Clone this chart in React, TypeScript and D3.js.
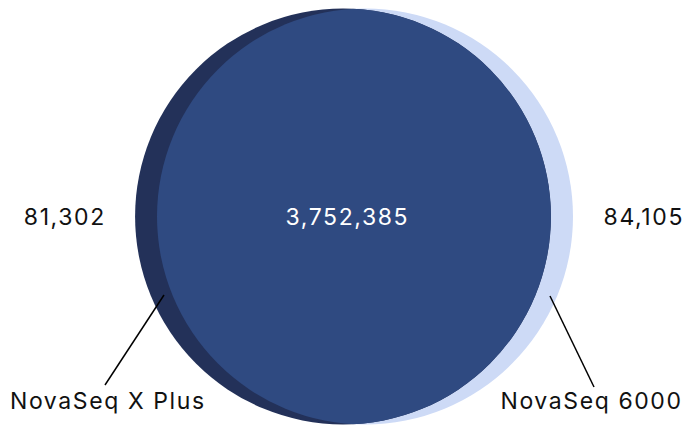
import React from "react";
import * as d3 from "d3";

const setNames = ["NovaSeq X Plus", "NovaSeq 6000"];
const onlyCounts = [81302, 84105];
const sharedCount = 3752385;
const setColors = ["#233159", "#cddaf6"];
const sharedColor = "#2f4a81";

const W = 687;
const H = 425;

export default function App() {
  const totals = onlyCounts.map((c) => c + sharedCount);
  const r = d3.scaleSqrt().domain([0, d3.max(totals)!]).range([0, 208]);
  const rA = r(totals[0]);
  const rB = r(totals[1]);
  const cy = 216.5;
  const cxA = 343;
  const cxB = 365;
  const fmt = d3.format(",");
  const font = "Inter, 'Open Sans', sans-serif";
  const fs = 23;
  const ls = 1.6;

  return (
    <div style={{ position: "absolute", left: 0, top: 0 }}>
      <svg width={W} height={H} style={{ display: "block" }}>
        <defs>
          <clipPath id="clipA">
            <circle cx={cxA} cy={cy} r={rA} />
          </clipPath>
        </defs>
        <circle cx={cxB} cy={cy} r={rB} fill={setColors[1]} />
        <circle cx={cxA} cy={cy} r={rA} fill={setColors[0]} />
        <circle cx={cxB} cy={cy} r={rB} fill={sharedColor} clipPath="url(#clipA)" />

        <g fontFamily={font} fontSize={fs} letterSpacing={ls}>
          <text x={64 + ls / 2} y={224.5} textAnchor="middle" fill="#111">
            {fmt(onlyCounts[0])}
          </text>
          <text x={346.5 + ls / 2} y={224.5} textAnchor="middle" fill="#fff">
            {fmt(sharedCount)}
          </text>
          <text x={643 + ls / 2} y={224.5} textAnchor="middle" fill="#111">
            {fmt(onlyCounts[1])}
          </text>
          <text x={10} y={409} fill="#111">
            {setNames[0]}
          </text>
          <text x={681 + ls} y={409} textAnchor="end" fill="#111">
            {setNames[1]}
          </text>
        </g>

        <line x1={164} y1={295} x2={105} y2={385} stroke="#000" strokeWidth={1.5} />
        <line x1={550} y1={296} x2={594} y2={387} stroke="#000" strokeWidth={1.5} />
      </svg>
    </div>
  );
}
